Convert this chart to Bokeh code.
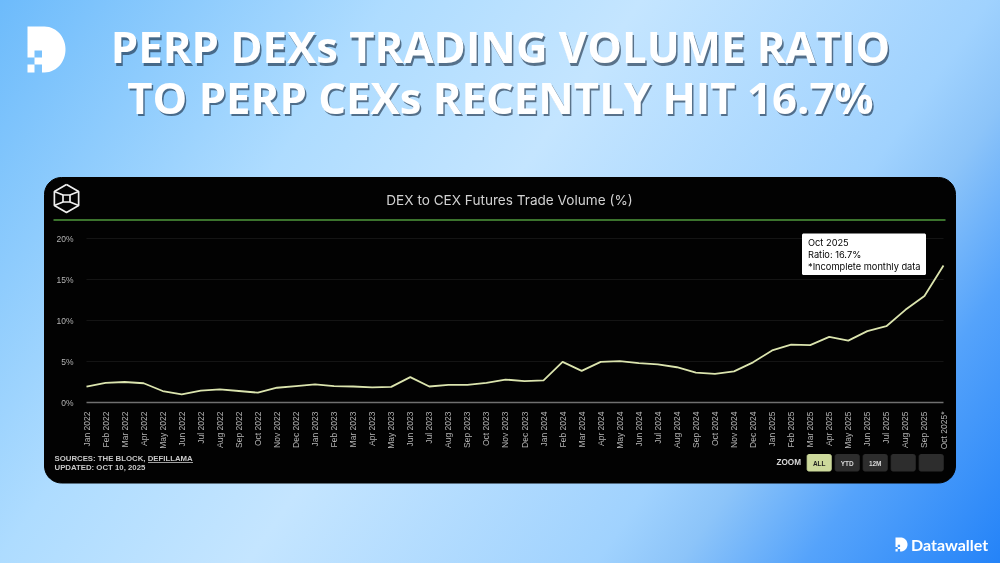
import math
import numpy as np
from bokeh.embed import file_html
from bokeh.models import Label, Range1d, FixedTicker, PrintfTickFormatter, LinearAxis, InlineStyleSheet
from bokeh.plotting import figure
from bokeh.resources import INLINE

# ---------- data ----------
months = ["Jan 2022","Feb 2022","Mar 2022","Apr 2022","May 2022","Jun 2022","Jul 2022","Aug 2022","Sep 2022","Oct 2022","Nov 2022","Dec 2022",
          "Jan 2023","Feb 2023","Mar 2023","Apr 2023","May 2023","Jun 2023","Jul 2023","Aug 2023","Sep 2023","Oct 2023","Nov 2023","Dec 2023",
          "Jan 2024","Feb 2024","Mar 2024","Apr 2024","May 2024","Jun 2024","Jul 2024","Aug 2024","Sep 2024","Oct 2024","Nov 2024","Dec 2024",
          "Jan 2025","Feb 2025","Mar 2025","Apr 2025","May 2025","Jun 2025","Jul 2025","Aug 2025","Sep 2025","Oct 2025*"]
ratio = [1.95,2.4,2.5,2.35,1.4,1.0,1.45,1.6,1.4,1.2,1.8,2.0,
         2.2,2.0,1.95,1.85,1.9,3.1,1.95,2.15,2.15,2.4,2.8,2.6,
         2.7,4.95,3.85,4.95,5.05,4.8,4.65,4.3,3.65,3.5,3.8,4.9,
         6.35,7.05,7.0,8.0,7.55,8.7,9.3,11.3,13.0,16.7]
y_ticks = [0, 5, 10, 15, 20]
title_lines = ["PERP DEXs TRADING VOLUME RATIO", "TO PERP CEXs RECENTLY HIT 16.7%"]
chart_title = "DEX to CEX Futures Trade Volume (%)"
tooltip_lines = ["Oct 2025", "Ratio: 16.7%", "*Incomplete monthly data"]
buttons = ["ALL", "YTD", "12M", "", ""]

# ---------- page geometry: pixels of the 1000x563 window ----------
W, H, M = 1000, 563, 0
X0, XN = 86.0, 943.0     # pixel of first / last month
Y0, Y20 = 402.0, 238.0   # pixel of 0% / 20%
ppx = (XN - X0) / (len(months) - 1)
ppy = (Y0 - Y20) / 20

bg = ("linear-gradient(125deg, #6dbbfb 0%, #aedcff 28%, #c4e5ff 46%, #a0d2fe 71%, "
      "#8cc4f9 77%, #55a3fb 86%, #2483f8 100%)")
sheet = InlineStyleSheet(css=":host::before{content:'';position:fixed;left:0;top:0;width:100vw;height:100vh;z-index:-1;background:%s}" % bg)

p = figure(width=W - 2 * M, height=H - 2 * M, output_backend="svg", toolbar_location=None,
           x_range=Range1d((M - X0) / ppx, (W - M - X0) / ppx),
           y_range=Range1d((Y0 - (H - M)) / ppy, (Y0 - M) / ppy),
           x_axis_location=None, y_axis_location=None,
           min_border=0, min_border_left=0, min_border_right=0, min_border_top=0, min_border_bottom=0,
           border_fill_alpha=0, background_fill_alpha=0, outline_line_color=None,
           stylesheets=[sheet])
p.extra_x_ranges = {"px": Range1d(M, W - M)}
p.extra_y_ranges = {"px": Range1d(H - M, M)}
PX = dict(x_range_name="px", y_range_name="px")
p.grid.visible = False


def rounded(x0, y0, x1, y1, r):
    xs, ys = [], []
    for cx, cy, a in [(x1 - r, y0 + r, -90), (x1 - r, y1 - r, 0), (x0 + r, y1 - r, 90), (x0 + r, y0 + r, 180)]:
        for t in np.linspace(a, a + 90, 12):
            xs.append(cx + r * math.cos(math.radians(t)))
            ys.append(cy + r * math.sin(math.radians(t)))
    return xs, ys


def text(x, y, s, size, color="#ffffff", align="left", base="middle", font="Liberation Sans", style="normal", alpha=1.0):
    p.add_layout(Label(x=x, y=y, text=s, text_font_size=f"{size}px", text_color=color, text_align=align,
                       text_baseline=base, text_font=font, text_font_style=style, text_alpha=alpha, **PX))


def d_logo(x, y, w, h, color="#ffffff"):
    """Datawallet mark, drawn in a box of w x h with its top-left at x, y."""
    sx, sy = w / 38.0, h / 46.0
    pts = [(0, 0), (17, 0)]
    pts += [(17 + 21 * math.cos(math.radians(t)), 23 + 23 * math.sin(math.radians(t))) for t in np.linspace(-90, 90, 30)]
    pts += [(14.5, 46), (14.5, 38), (7, 38), (7, 31), (14.5, 31), (14.5, 24), (7, 24), (7, 31), (0, 31)]
    p.patch([x + a * sx for a, b in pts], [y + b * sy for a, b in pts], color=color, line_width=0, **PX)
    sq = [(0, 38), (7, 38), (7, 46), (0, 46)]
    p.patch([x + a * sx for a, b in sq], [y + b * sy for a, b in sq], color=color, line_width=0, **PX)


# ---------- dark card ----------
cx, cy = rounded(44, 177, 955, 482.5, 17)
p.patch(cx, cy, color="#020202", line_color="#020202", level="image", **PX)

# green rule under the chart title
p.line([53, 945], [219.5, 219.5], line_color="#4f9a3c", line_width=1.5, level="image", **PX)

# ---------- axes and grid through Bokeh's scales ----------
xs = list(range(len(months)))
xaxis = LinearAxis(fixed_location=0, bounds=(0, len(months) - 1),
                   ticker=FixedTicker(ticks=xs),
                   major_label_overrides={i: m for i, m in zip(xs, months)},
                   major_label_orientation=math.pi / 2,
                   major_label_text_font="Liberation Sans", major_label_text_font_size="8.5px",
                   major_label_text_color="#b4b4b4", major_label_standoff=3,
                   major_tick_line_color=None, minor_tick_line_color=None,
                   axis_line_color="#707070", axis_line_width=1.6)
p.add_layout(xaxis, "below")
yaxis = LinearAxis(fixed_location=-0.05, ticker=FixedTicker(ticks=y_ticks),
                   formatter=PrintfTickFormatter(format="%d%%"),
                   major_label_text_font="Liberation Sans", major_label_text_font_size="8.5px",
                   major_label_text_color="#b4b4b4", major_label_standoff=6,
                   major_tick_line_color=None, minor_tick_line_color=None, axis_line_color=None)
p.add_layout(yaxis, "left")
p.multi_line([[0, len(months) - 1] for t in y_ticks[1:]], [[t, t] for t in y_ticks[1:]],
             line_color="#141414", line_width=1, level="image")

# ---------- series ----------
p.line(xs, ratio, line_color="#dbe4ae", line_width=1.8, line_join="round")

# ---------- page title (soft shadow, then white) ----------
for line, yy in zip(title_lines, [45.5, 96]):
    text(501.5, yy + 2.5, line, 43.7, color="#14263c", align="center", font="Open Sans", style="bold", alpha=0.6)
    text(500, yy, line, 43.7, align="center", font="Open Sans", style="bold")

d_logo(27, 26, 38, 46)
d_logo(895, 537, 12, 14)
text(910.5, 544, "Datawallet", 16, font="Lato", style="bold")

# ---------- card header ----------
text(509, 199.5, chart_title, 13.6, color="#d2d2d2", align="center", font="Inter")
hx = [66 + 14 * math.cos(math.radians(a)) for a in range(-90, 300, 60)]
hy = [198 + 14 * math.sin(math.radians(a)) for a in range(-90, 300, 60)]
sqx = [62.5, 69.5, 69.5, 62.5, 62.5]
sqy = [194.5, 194.5, 201.5, 201.5, 194.5]
spokes_x = [[hx[1], 69.5], [hx[2], 69.5], [hx[4], 62.5], [hx[5], 62.5]]
spokes_y = [[hy[1], 194.5], [hy[2], 201.5], [hy[4], 201.5], [hy[5], 194.5]]
p.multi_line([hx, sqx] + spokes_x, [hy, sqy] + spokes_y, line_color="#eeeeee", line_width=1.7, **PX)

# ---------- tooltip ----------
tx, ty = rounded(802, 233.5, 925, 274, 0.5)
p.patch(tx, ty, color="#ffffff", **PX)
for s, yy in zip(tooltip_lines, [241.5, 253.5, 265.5]):
    text(807.5, yy, s, 9.25, color="#000000", font="Inter", style="normal")

# ---------- footer ----------
text(54, 457.5, "SOURCES: THE BLOCK, DEFILLAMA", 7.8, color="#c8c8c8", style="bold")
text(54, 467, "UPDATED: OCT 10, 2025", 7.8, color="#c8c8c8", style="bold")
p.line([147.5, 192.5], [462, 462], line_color="#c8c8c8", line_width=0.8, **PX)

text(776, 462, "ZOOM", 8.2, color="#d8d8d8", style="bold")
for i, b in enumerate(buttons):
    bx = 806.7 + i * 28
    fx, fy = rounded(bx, 454, bx + 24, 470.5, 1.5)
    p.patch(fx, fy, color="#ccd99b" if i == 0 else "#2d2d2d", **PX)
    if b:
        text(bx + 12, 462.5, b, 6.5, color="#1d1d1d" if i == 0 else "#d8d8d8", align="center", style="bold")

open("out.html", "w").write(file_html(p, INLINE))
